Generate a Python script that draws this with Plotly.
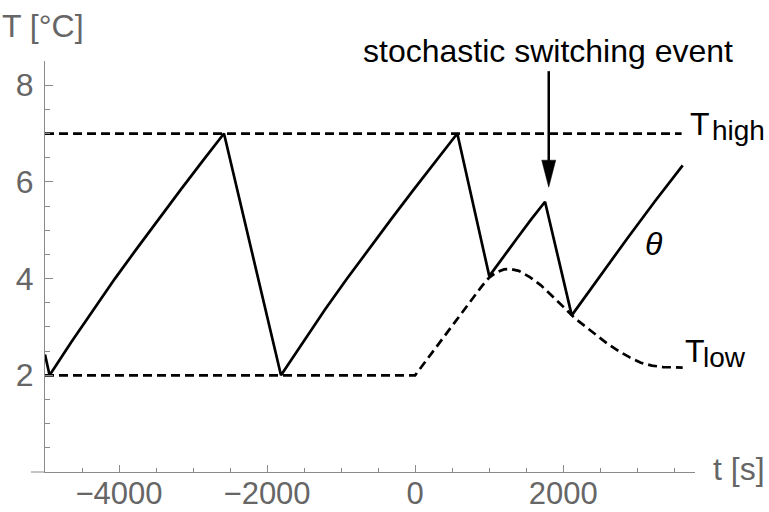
import plotly.graph_objects as go

# ---------------- data ----------------
# solid curve theta (temperature of the object)
theta_t = [-5000,
           -4938, -4644, -4349, -4055, -3760, -3466, -3171, -2877, -2582,
           -1812, -1514, -1217, -919, -621, -323, -25, 272, 570,
           1002, 1190, 1380, 1565, 1755,
           2116, 2490, 2866, 3240, 3615]
theta_T = [2.43,
           2.00, 2.69, 3.36, 4.00, 4.62, 5.23, 5.83, 6.42, 7.00,
           2.00, 2.69, 3.36, 4.00, 4.62, 5.23, 5.83, 6.42, 7.00,
           4.05, 4.45, 4.84, 5.22, 5.59,
           3.24, 4.04, 4.83, 5.60, 6.34]

# dashed upper threshold
thigh_t = [-5000, 3600]
thigh_T = [7.0, 7.0]

# dashed lower threshold
tlow_t = [-5000, 0, 250, 500, 750, 900, 1000, 1100, 1200, 1280, 1400, 1550, 1700,
          1850, 2000, 2150, 2300, 2450, 2600, 2750, 2900, 3050, 3200, 3350, 3500, 3615]
tlow_T = [2.0, 2.0, 2.51, 3.03, 3.54, 3.84, 4.02, 4.13, 4.19, 4.20, 4.16, 4.03, 3.86,
          3.65, 3.42, 3.19, 3.01, 2.83, 2.65, 2.50, 2.37, 2.26, 2.20, 2.17, 2.16, 2.16]

# ticks
x_major = [-4000, -2000, 0, 2000]
x_major_text = ["\u22124000", "\u22122000", "0", "2000"]
y_major = [2, 4, 6, 8]
y_major_text = ["2", "4", "6", "8"]

# switching event arrow (time, top of shaft, tip)
event_t = 1805
event_top = 8.29
event_tip = 5.89

FONT = "Liberation Sans, Arial, sans-serif"
GRAY_TXT = "#666666"
GRAY_AX = "#8a8a8a"

fig = go.Figure()
fig.add_trace(go.Scatter(x=thigh_t, y=thigh_T, mode="lines",
                         line=dict(color="black", width=2.7, dash="9px,5px"),
                         hoverinfo="skip"))
fig.add_trace(go.Scatter(x=tlow_t, y=tlow_T, mode="lines",
                         line=dict(color="black", width=2.7, dash="9px,5px"),
                         hoverinfo="skip"))
fig.add_trace(go.Scatter(x=theta_t, y=theta_T, mode="lines",
                         line=dict(color="black", width=2.7),
                         hoverinfo="skip"))

W, H = 769, 512
L, R, T, B = 45, 74, 61, 40
pw = W - L - R
ph = H - T - B

def px2paper_x(px):
    return (px - L) / pw

def px2paper_y(py):
    return (H - B - py) / ph

fig.update_layout(
    width=W, height=H,
    margin=dict(l=L, r=R, t=T, b=B, pad=0, autoexpand=False),
    paper_bgcolor="white", plot_bgcolor="white",
    showlegend=False,
    font=dict(family=FONT, size=32, color=GRAY_TXT),
    xaxis=dict(range=[-5000, 3781], showgrid=False, zeroline=False, automargin=False,
               showline=True, linecolor=GRAY_AX, linewidth=1,
               tickmode="array", tickvals=x_major, ticktext=x_major_text,
               ticks="inside", ticklen=7, tickcolor=GRAY_AX, tickwidth=1,
               tickfont=dict(family=FONT, size=31, color=GRAY_TXT),
               ticklabelstandoff=-6,
               minor=dict(tickmode="linear", tick0=-5000, dtick=500, ticks="inside",
                          ticklen=4, tickcolor=GRAY_AX, tickwidth=1, showgrid=False)),
    yaxis=dict(range=[0, 8.5], showgrid=False, zeroline=False, automargin=False,
               showline=True, linecolor=GRAY_AX, linewidth=1,
               tickmode="array", tickvals=y_major, ticktext=y_major_text,
               ticks="inside", ticklen=8, tickcolor=GRAY_AX, tickwidth=1,
               tickfont=dict(family=FONT, size=32, color=GRAY_TXT),
               ticklabelstandoff=4,
               minor=dict(tickmode="linear", tick0=0, dtick=0.5, ticks="inside",
                          ticklen=5, tickcolor=GRAY_AX, tickwidth=1, showgrid=False)),
)

# x-axis line extension to the left of the vertical axis
fig.add_shape(type="line", xref="paper", yref="paper",
              x0=px2paper_x(31), x1=0, y0=0, y1=0,
              line=dict(color=GRAY_AX, width=1))

# arrow shaft and head
fig.add_shape(type="line", xref="x", yref="y",
              x0=event_t, x1=event_t, y0=event_top, y1=event_tip + 0.5,
              line=dict(color="black", width=2.5))
fig.add_shape(type="path", xref="x", yref="y",
              xsizemode="pixel", ysizemode="pixel",
              xanchor=event_t, yanchor=event_tip,
              path="M0,0 L-7,27 L7,27 Z",
              fillcolor="black", line=dict(color="black", width=0.5))

def ann(text, px, py, size=32, color="black", xanchor="left", italic=False):
    fig.add_annotation(text=text, xref="paper", yref="paper",
                       x=px2paper_x(px), y=px2paper_y(py),
                       xanchor=xanchor, yanchor="middle", showarrow=False,
                       font=dict(family=FONT, size=size, color=color,
                                 style="italic" if italic else "normal"))

ann("T [\u00b0C]", 0, 26, color=GRAY_TXT)
ann("t [s]", 711, 469, color=GRAY_TXT)
ann("stochastic switching event", 548, 51, xanchor="center")
ann("T", 688, 124)
ann("high", 710, 130, size=28)
ann("T", 683, 351)
ann("low", 701, 357, size=28)
ann("\u03b8", 654, 244, xanchor="center", italic=True)

fig.write_html("out.html",
               config={"displayModeBar": False},
               post_script="document.body.style.margin='0px';"
                           "document.body.style.overflow='hidden';")
